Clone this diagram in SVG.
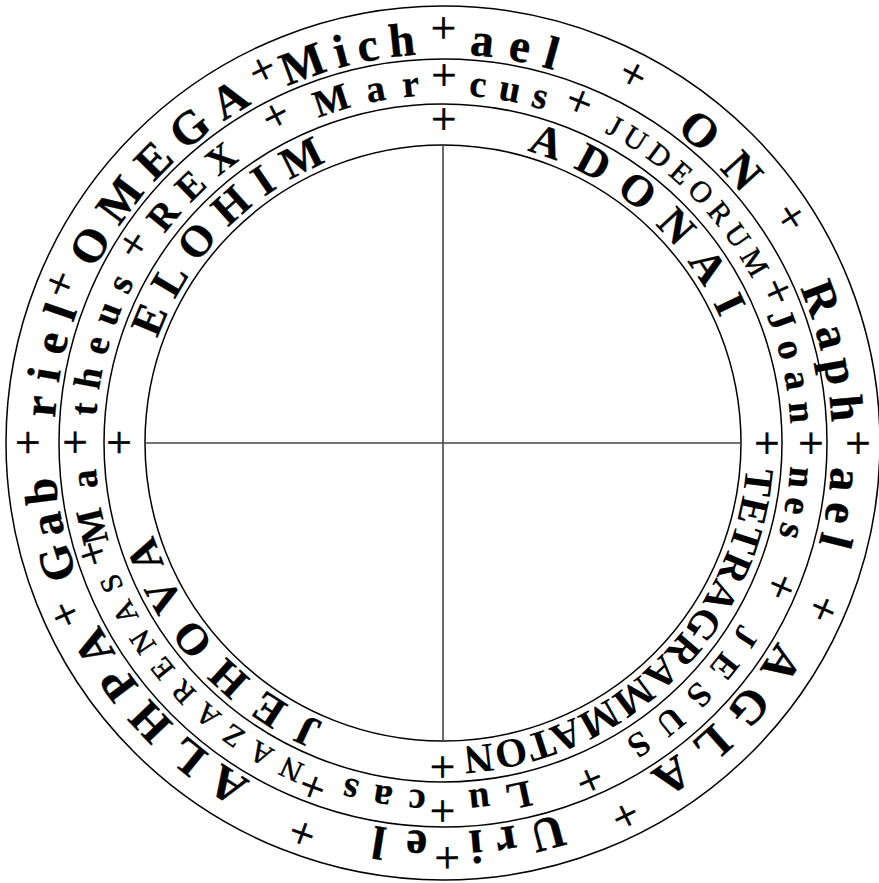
<svg xmlns="http://www.w3.org/2000/svg" width="879" height="883" viewBox="0 0 879 883">
<style>
.ring{fill:none;stroke:#000;stroke-width:1.5}
.ax{stroke:#444;stroke-width:1.6}
text{font-family:"Liberation Serif","Times New Roman",serif;fill:#000}
.o{font-size:47px;font-weight:bold;stroke:#000;stroke-width:0.4}
.m{font-size:38px;font-weight:bold;stroke:#000;stroke-width:0.3}
.mj{font-size:35px;font-weight:bold}
.s{font-size:30px;font-weight:normal;stroke:#000;stroke-width:0.5}
.i{font-size:44px;font-weight:bold;stroke:#000;stroke-width:0.3}
.it{font-size:41px;font-weight:bold}
.p{font-size:45px;font-weight:normal;text-anchor:middle;stroke:#000;stroke-width:0.6}
</style>
<defs>
<path id="po" d="M443,54 A389,389 0 1,1 443,832 A389,389 0 1,1 443,54 A389,389 0 1,1 443,832 A389,389 0 1,1 443,54"/>
<path id="pop" d="M443,43 A400,400 0 1,1 443,843 A400,400 0 1,1 443,43 A400,400 0 1,1 443,843 A400,400 0 1,1 443,43"/>
<path id="pm" d="M443,95 A348,348 0 1,1 443,791 A348,348 0 1,1 443,95 A348,348 0 1,1 443,791 A348,348 0 1,1 443,95"/>
<path id="pmp" d="M443,90 A353,353 0 1,1 443,796 A353,353 0 1,1 443,90 A353,353 0 1,1 443,796 A353,353 0 1,1 443,90"/>
<path id="ps" d="M443,93 A350,350 0 1,1 443,793 A350,350 0 1,1 443,93 A350,350 0 1,1 443,793 A350,350 0 1,1 443,93"/>
<path id="pi" d="M443,139 A304,304 0 1,1 443,747 A304,304 0 1,1 443,139 A304,304 0 1,1 443,747 A304,304 0 1,1 443,139"/>
<path id="pip" d="M443,134 A309,309 0 1,1 443,752 A309,309 0 1,1 443,134 A309,309 0 1,1 443,752 A309,309 0 1,1 443,134"/>
</defs>
<rect width="879" height="883" fill="#fff"/>
<g id="circles">
<circle class="ring" cx="443" cy="443" r="437"/>
<circle class="ring" cx="443" cy="443" r="384"/>
<circle class="ring" cx="443" cy="443" r="339"/>
<circle class="ring" cx="443" cy="443" r="298"/>
</g>
<g id="cross">
<line class="ax" x1="145" y1="443" x2="741" y2="443"/>
<line class="ax" x1="443" y1="145" x2="443" y2="741"/>
</g>
<g id="ring-outer">
<text class="o" textLength="93.4" lengthAdjust="spacing"><textPath href="#po" startOffset="1102.6">Uri</textPath></text>
<text class="p"><textPath href="#pop" startOffset="1252.4">+</textPath></text>
<text class="o" textLength="53.6" lengthAdjust="spacing"><textPath href="#po" startOffset="1236.7">el</textPath></text>
<text class="p"><textPath href="#pop" startOffset="1394.9">+</textPath></text>
<text class="o" textLength="220.6" lengthAdjust="spacing"><textPath href="#po" startOffset="1423">ALHPA</textPath></text>
<text class="p"><textPath href="#pop" startOffset="1713.9">+</textPath></text>
<text class="o" textLength="101.9" lengthAdjust="spacing"><textPath href="#po" startOffset="1696.7">Gab</textPath></text>
<text class="p"><textPath href="#pop" startOffset="1885">+</textPath></text>
<text class="o" textLength="110.5" lengthAdjust="spacing"><textPath href="#po" startOffset="1857.3">riel</textPath></text>
<text class="p"><textPath href="#pop" startOffset="2042">+</textPath></text>
<text class="o" textLength="231.5" lengthAdjust="spacing"><textPath href="#po" startOffset="2012.4">OMEGA</textPath></text>
<text class="p"><textPath href="#pop" startOffset="2332.5">+</textPath></text>
<text class="o" textLength="133.6" lengthAdjust="spacing"><textPath href="#po" startOffset="2282.8">Mich</textPath></text>
<text class="p"><textPath href="#pop" startOffset="2513.3">+</textPath></text>
<text class="o" textLength="86.2" lengthAdjust="spacing"><textPath href="#po" startOffset="26.3">ael</textPath></text>
<text class="p"><textPath href="#pop" startOffset="190.6">+</textPath></text>
<text class="o" textLength="91.6" lengthAdjust="spacing"><textPath href="#po" startOffset="249.2">ON</textPath></text>
<text class="p"><textPath href="#pop" startOffset="397.9">+</textPath></text>
<text class="o" textLength="138.6" lengthAdjust="spacing"><textPath href="#po" startOffset="451.5">Raph</textPath></text>
<text class="p"><textPath href="#pop" startOffset="628.3">+</textPath></text>
<text class="o" textLength="78.1" lengthAdjust="spacing"><textPath href="#po" startOffset="634.6">ael</textPath></text>
<text class="p"><textPath href="#pop" startOffset="793.1">+</textPath></text>
<text class="o" textLength="185.3" lengthAdjust="spacing"><textPath href="#po" startOffset="818.8">AGLA</textPath></text>
<text class="p"><textPath href="#pop" startOffset="1074.4">+</textPath></text>
</g>
<g id="ring-middle">
<text class="p"><textPath href="#pmp" startOffset="2218">+</textPath></text>
<text class="m" textLength="77.1" lengthAdjust="spacing"><textPath href="#pm" startOffset="25.6">cus</textPath></text>
<text class="p"><textPath href="#pmp" startOffset="134.3">+</textPath></text>
<text class="s" textLength="211.6" lengthAdjust="spacing"><textPath href="#ps" startOffset="167.7">JUDEORUM</textPath></text>
<text class="p"><textPath href="#pmp" startOffset="404.2">+</textPath></text>
<text class="m" textLength="112.3" lengthAdjust="spacing"><textPath href="#pm" startOffset="415">Joan</textPath></text>
<text class="p"><textPath href="#pmp" startOffset="554.5">+</textPath></text>
<text class="m" textLength="70.8" lengthAdjust="spacing"><textPath href="#pm" startOffset="569.5">nes</textPath></text>
<text class="p"><textPath href="#pmp" startOffset="696.2">+</textPath></text>
<text class="mj" textLength="166.7" lengthAdjust="spacing"><textPath href="#pm" startOffset="735.3">JESUS</textPath></text>
<text class="p"><textPath href="#pmp" startOffset="963.6">+</textPath></text>
<text class="m" textLength="61.5" lengthAdjust="spacing"><textPath href="#pm" startOffset="1006.5">Lu</textPath></text>
<text class="p"><textPath href="#pmp" startOffset="1109">+</textPath></text>
<text class="m" textLength="81.4" lengthAdjust="spacing"><textPath href="#pm" startOffset="1109.7">cas</textPath></text>
<text class="p"><textPath href="#pmp" startOffset="1236.5">+</textPath></text>
<text class="s" textLength="276.3" lengthAdjust="spacing"><textPath href="#ps" startOffset="1240.8">NAZARENAS</textPath></text>
<text class="p"><textPath href="#pmp" startOffset="1555">+</textPath></text>
<text class="m" textLength="73.6" lengthAdjust="spacing"><textPath href="#pm" startOffset="1540">Ma</textPath></text>
<text class="p"><textPath href="#pmp" startOffset="1663.5">+</textPath></text>
<text class="m" textLength="140.6" lengthAdjust="spacing"><textPath href="#pm" startOffset="1665.8">theus</textPath></text>
<text class="p"><textPath href="#pmp" startOffset="1864.3">+</textPath></text>
<text class="m" textLength="105.8" lengthAdjust="spacing"><textPath href="#pm" startOffset="1863">REX</textPath></text>
<text class="p"><textPath href="#pmp" startOffset="2050.4">+</textPath></text>
<text class="m" textLength="104.6" lengthAdjust="spacing"><textPath href="#pm" startOffset="2058">Mar</textPath></text>
</g>
<g id="ring-inner">
<text class="p"><textPath href="#pip" startOffset="1941.5">+</textPath></text>
<text class="i" textLength="264" lengthAdjust="spacing"><textPath href="#pi" startOffset="84.9">ADONAI</textPath></text>
<text class="p"><textPath href="#pip" startOffset="485.4">+</textPath></text>
<text class="it" textLength="433.8" lengthAdjust="spacing"><textPath href="#pi" startOffset="501.5">TETRAGRAMMATON</textPath></text>
<text class="p"><textPath href="#pip" startOffset="970.8">+</textPath></text>
<text class="i" textLength="261.6" lengthAdjust="spacing"><textPath href="#pi" startOffset="1077.2">JEHOVA</textPath></text>
<text class="p"><textPath href="#pip" startOffset="1456.1">+</textPath></text>
<text class="i" textLength="251.6" lengthAdjust="spacing"><textPath href="#pi" startOffset="1538.8">ELOHIM</textPath></text>
</g>
</svg>
